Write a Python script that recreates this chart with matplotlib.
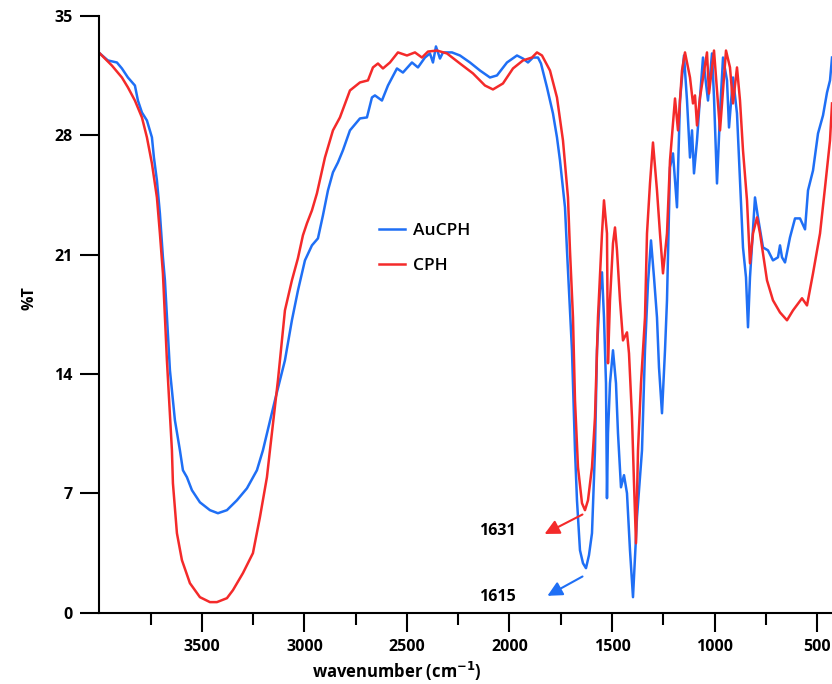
import matplotlib
matplotlib.use("Agg")
import matplotlib.pyplot as plt
import numpy as np

plt.rcParams['font.family'] = ['Open Sans', 'DejaVu Sans']

# ---------- 数据 ----------
au_wn = [3998, 3958.6, 3914.7, 3890.3, 3861.0, 3826.9, 3812.2, 3792.7, 3768.3, 3743.9,
         3734.2, 3719.6, 3705.0, 3690.3, 3680.5, 3656.1, 3631.8, 3607.4, 3592.7, 3573.2,
         3548.8, 3509.8, 3461.0, 3422.0, 3378.1, 3329.3, 3280.5, 3231.8, 3202.5, 3144.0,
         3095.2, 3061.2, 3031.6, 2997.6, 2963.5, 2934.2, 2909.8, 2885.4, 2861.0, 2836.6,
         2812.4, 2778.1, 2729.3, 2695.2, 2670.8, 2656.2, 2622.0, 2592.7, 2548.8, 2519.6,
         2475.7, 2446.4, 2412.3, 2387.9, 2373.2, 2358.6, 2339.1, 2324.4, 2280.5, 2241.5,
         2192.7, 2144.0, 2095.2, 2061.0, 2012.2, 1963.5, 1934.2, 1909.8, 1885.4, 1861.0,
         1846.4, 1817.1, 1787.9, 1768.4, 1753.7, 1729.3, 1719.6, 1695.2, 1680.5, 1670.8,
         1656.2, 1641.5, 1626.9, 1612.3, 1597.6, 1583.0, 1573.2, 1558.6, 1548.8, 1539.1,
         1529.3, 1524.5, 1519.6, 1509.8, 1495.2, 1480.6, 1470.8, 1456.2, 1441.5, 1426.9,
         1412.3, 1397.6, 1378.1, 1353.7, 1339.1, 1324.5, 1309.8, 1295.2, 1280.6, 1270.8,
         1256.2, 1241.5, 1231.8, 1217.1, 1202.5, 1183.0, 1168.4, 1148.9, 1134.2, 1119.6,
         1109.8, 1100.1, 1085.4, 1070.8, 1056.2, 1031.8, 1012.3, 1002.5, 987.9, 973.2,
         958.6, 939.1, 929.3, 909.9, 890.4, 875.7, 861.1, 846.5, 836.7, 827.0,
         802.6, 788.0, 763.6, 739.3, 714.9, 690.5, 680.6, 670.8, 656.2, 631.8,
         607.4, 583.0, 558.6, 544.0, 519.6, 495.2, 470.8, 451.3, 436.7, 426.9]
au_t = [32.79, 32.38, 32.26, 31.91, 31.38, 30.91, 30.03, 29.33, 28.86, 27.87,
        26.69, 25.35, 23.41, 20.84, 19.49, 14.22, 11.29, 9.53, 8.36, 7.95,
        7.19, 6.48, 6.02, 5.84, 6.02, 6.60, 7.30, 8.36, 9.53, 12.46,
        14.80, 17.15, 18.90, 20.66, 21.54, 21.95, 23.30, 24.76, 25.82, 26.40,
        27.11, 28.28, 28.98, 29.04, 30.21, 30.33, 30.03, 30.91, 31.91, 31.67,
        32.26, 31.97, 32.55, 32.79, 32.26, 33.20, 32.49, 32.85, 32.85, 32.67,
        32.26, 31.79, 31.38, 31.50, 32.26, 32.67, 32.49, 32.26, 32.55, 32.55,
        32.20, 30.80, 29.27, 27.87, 26.52, 23.77, 21.25, 15.39, 9.53, 6.60,
        3.67, 2.91, 2.62, 3.38, 4.67, 9.53, 15.39, 18.90, 19.96, 17.32,
        13.46, 6.72, 10.53, 13.46, 15.39, 13.46, 10.53, 7.36, 8.07, 7.01,
        3.67, 0.92, 5.61, 9.53, 15.39, 19.31, 21.83, 19.67, 17.32, 14.39,
        11.70, 15.39, 18.32, 26.11, 26.93, 23.77, 30.03, 32.67, 30.03, 26.69,
        28.28, 25.76, 27.69, 30.21, 32.55, 30.03, 32.79, 30.21, 25.17, 29.27,
        32.55, 31.21, 28.45, 31.38, 29.27, 25.35, 21.42, 19.67, 16.74, 19.67,
        24.35, 23.18, 21.42, 21.25, 20.66, 20.84, 21.54, 20.84, 20.54, 22.01,
        23.12, 23.12, 22.48, 24.76, 25.93, 28.10, 29.16, 30.50, 31.21, 32.55]

cph_wn = [3998, 3939.1, 3890.3, 3861.0, 3826.9, 3792.7, 3768.3, 3743.9, 3719.6, 3705.0,
          3690.3, 3670.8, 3646.4, 3641.5, 3622.0, 3597.6, 3558.6, 3509.8, 3461.0, 3426.9,
          3378.1, 3348.8, 3300.0, 3251.3, 3217.1, 3183.0, 3168.3, 3129.3, 3095.2, 3061.2,
          3031.9, 3007.4, 2987.9, 2963.5, 2939.1, 2900.0, 2861.0, 2826.9, 2778.1, 2729.3,
          2690.3, 2665.9, 2641.5, 2617.1, 2583.0, 2544.0, 2500.0, 2461.0, 2426.9, 2397.6,
          2353.7, 2304.9, 2241.5, 2178.1, 2119.6, 2080.6, 2031.8, 1983.0, 1934.2, 1890.3,
          1865.9, 1841.5, 1802.5, 1768.4, 1739.1, 1714.7, 1705.0, 1690.3, 1680.5, 1665.9,
          1646.4, 1631.8, 1617.1, 1597.6, 1583.0, 1568.4, 1548.8, 1539.1, 1524.5, 1519.6,
          1509.8, 1495.2, 1485.4, 1475.7, 1461.0, 1446.4, 1426.9, 1417.1, 1402.5, 1392.7,
          1383.0, 1373.2, 1358.6, 1339.1, 1329.3, 1314.7, 1300.1, 1280.6, 1266.0, 1251.3,
          1231.8, 1217.1, 1192.7, 1178.1, 1158.6, 1144.0, 1119.6, 1105.0, 1095.2, 1085.4,
          1070.8, 1036.7, 1026.9, 1002.5, 973.2, 944.0, 924.5, 909.9, 890.4, 875.7,
          861.1, 841.6, 827.0, 812.3, 792.8, 778.1, 744.0, 714.9, 680.6, 646.5,
          617.2, 573.3, 548.9, 519.6, 485.4, 461.0, 436.7, 426.9]
cph_t = [32.79, 32.08, 31.38, 30.80, 30.03, 29.04, 27.87, 26.34, 24.35, 22.24,
         19.90, 14.80, 9.53, 7.60, 4.67, 3.09, 1.74, 0.92, 0.63, 0.63,
         0.86, 1.33, 2.33, 3.50, 5.61, 7.95, 9.53, 13.63, 17.73, 19.49,
         20.78, 22.13, 22.83, 23.59, 24.59, 26.69, 28.28, 29.04, 30.62, 31.09,
         31.21, 31.97, 32.20, 31.91, 32.26, 32.85, 32.67, 32.85, 32.55, 32.90,
         32.96, 32.79, 32.20, 31.62, 30.91, 30.68, 31.03, 31.91, 32.38, 32.55,
         32.85, 32.67, 31.79, 30.21, 27.69, 24.35, 21.25, 17.32, 12.46, 8.54,
         6.43, 6.02, 6.60, 8.54, 11.46, 17.32, 22.24, 24.18, 22.24, 14.63,
         18.32, 21.66, 22.59, 21.25, 18.32, 15.97, 16.44, 15.21, 11.46, 7.60,
         4.08, 9.53, 13.46, 17.32, 22.24, 25.17, 27.57, 24.76, 22.24, 19.90,
         22.24, 26.52, 30.15, 28.28, 31.79, 32.85, 31.38, 29.86, 30.33, 28.57,
         30.21, 32.85, 30.44, 32.96, 28.28, 32.96, 31.97, 29.86, 31.97, 30.03,
         27.11, 24.18, 20.49, 22.24, 23.18, 22.24, 19.49, 18.32, 17.61, 17.15,
         17.73, 18.44, 18.02, 19.90, 22.24, 24.94, 27.69, 29.86]

y_ticks = [0, 7, 14, 21, 28, 35]
x_major = [3500, 3000, 2500, 2000, 1500, 1000, 500]
x_minor = [3750, 3250, 2750, 2250, 1750, 1250, 750]

BLUE = '#1f6ff5'
RED = '#f42a2a'

fig = plt.figure(figsize=(8.32, 6.84), dpi=100)
ax = fig.add_axes([0.119, 0.104, 0.881, 0.873])

ax.plot(au_wn, au_t, color=BLUE, lw=1.8, label='AuCPH')
ax.plot(cph_wn, cph_t, color=RED, lw=1.8, label='CPH')

ax.set_xlim(4002, 427)
ax.set_ylim(0, 35)

for s in ['top', 'right']:
    ax.spines[s].set_visible(False)
for s in ['left', 'bottom']:
    ax.spines[s].set_linewidth(1.5)

ax.set_yticks(y_ticks)
ax.set_xticks(x_major)
ax.set_xticks(x_minor, minor=True)
ax.tick_params(axis='both', which='major', direction='out', length=14, width=1.5,
               labelsize=11.5, pad=5)
ax.tick_params(axis='x', which='minor', direction='out', length=8.5, width=1.5)
for lab in ax.get_xticklabels() + ax.get_yticklabels():
    lab.set_fontweight('bold')

ax.set_xlabel('wavenumber (cm$^{\\mathbf{-1}}$)', fontsize=12, fontweight='bold')
ax.xaxis.set_label_coords(0.406, -0.078)
ax.set_ylabel('%T', fontsize=11.5, fontweight='bold')
ax.yaxis.set_label_coords(-0.084, 0.527)

leg = ax.legend(loc='upper left', bbox_to_anchor=(0.36, 0.68), frameon=False,
                fontsize=12.5, handlelength=1.5, handletextpad=0.5, labelspacing=1.1)
for t in leg.get_texts():
    t.set_fontweight('semibold')

# ---------- 峰位标注 ----------
ax.annotate('', xy=(1841, 4.55), xytext=(1632, 5.84),
            arrowprops=dict(arrowstyle='-|>', color=RED, lw=1.5, mutation_scale=22))
ax.text(2061, 4.79, '1631', ha='center', va='center', fontsize=11.5, fontweight='bold')
ax.annotate('', xy=(1827, 0.92), xytext=(1632, 2.21),
            arrowprops=dict(arrowstyle='-|>', color=BLUE, lw=1.5, mutation_scale=22))
ax.text(2061, 0.92, '1615', ha='center', va='center', fontsize=11.5, fontweight='bold')

fig.savefig('out.png', dpi=100)
